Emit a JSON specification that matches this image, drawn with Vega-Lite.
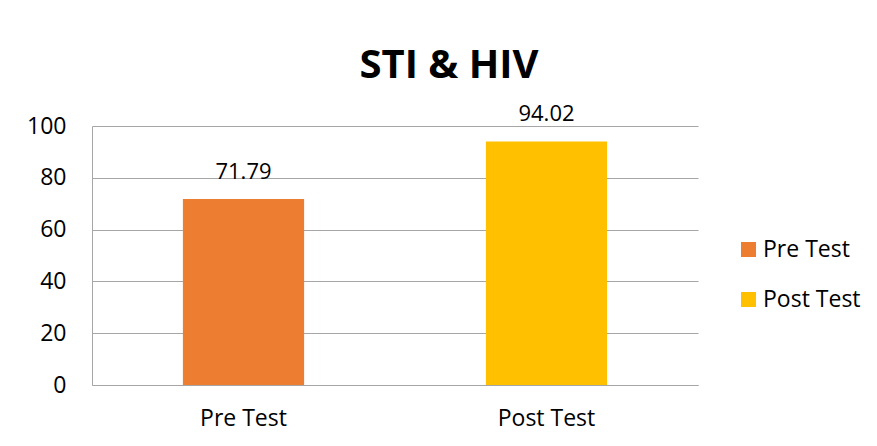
{
  "$schema": "https://vega.github.io/schema/vega-lite/v6.json",
  "width": 606,
  "height": 259,
  "autosize": "none",
  "padding": {"left": 92, "top": 126, "right": 179, "bottom": 61},
  "background": "white",
  "config": {
    "view": {"stroke": null},
    "font": "Open Sans"
  },
  "title": {
    "text": "STI & HIV",
    "font": "Open Sans",
    "fontSize": 40,
    "fontWeight": "bold",
    "color": "#000000",
    "anchor": "middle",
    "dx": 54,
    "dy": 63,
    "baseline": "alphabetic",
    "offset": 48
  },
  "data": {
    "values": [
      {"test": "Pre Test", "score": 71.79},
      {"test": "Post Test", "score": 94.02}
    ]
  },
  "encoding": {
    "x": {
      "field": "test",
      "type": "nominal",
      "sort": ["Pre Test", "Post Test"],
      "scale": {"paddingInner": 0.6, "paddingOuter": 0.3},
      "axis": {
        "title": null,
        "labelAngle": 0,
        "labelFontSize": 23,
        "labelColor": "#000000",
        "labelPadding": 22,
        "ticks": false,
        "domainColor": "#a6a6a6",
        "grid": false
      }
    },
    "y": {
      "field": "score",
      "type": "quantitative",
      "scale": {"domain": [0, 100]},
      "axis": {
        "title": null,
        "values": [0, 20, 40, 60, 80, 100],
        "labelFontSize": 23,
        "labelColor": "#000000",
        "labelPadding": 26,
        "ticks": false,
        "domainColor": "#a6a6a6",
        "gridColor": "#a6a6a6",
        "grid": true
      }
    }
  },
  "layer": [
    {
      "mark": {"type": "bar"},
      "encoding": {
        "color": {
          "field": "test",
          "type": "nominal",
          "sort": ["Pre Test", "Post Test"],
          "scale": {"domain": ["Pre Test", "Post Test"], "range": ["#ED7D31", "#FFC000"]},
          "legend": {
            "title": null,
            "orient": "none",
            "legendX": 645,
            "legendY": 112,
            "symbolType": "square",
            "symbolSize": 225,
            "symbolStrokeWidth": 0,
            "labelFontSize": 23,
            "labelColor": "#000000",
            "labelOffset": 3,
            "rowPadding": 26
          }
        }
      }
    },
    {
      "mark": {"type": "text", "fontSize": 22, "color": "#000000", "baseline": "alphabetic", "dy": -20},
      "encoding": {
        "text": {"field": "score", "type": "quantitative", "format": ".2f"}
      }
    }
  ]
}
